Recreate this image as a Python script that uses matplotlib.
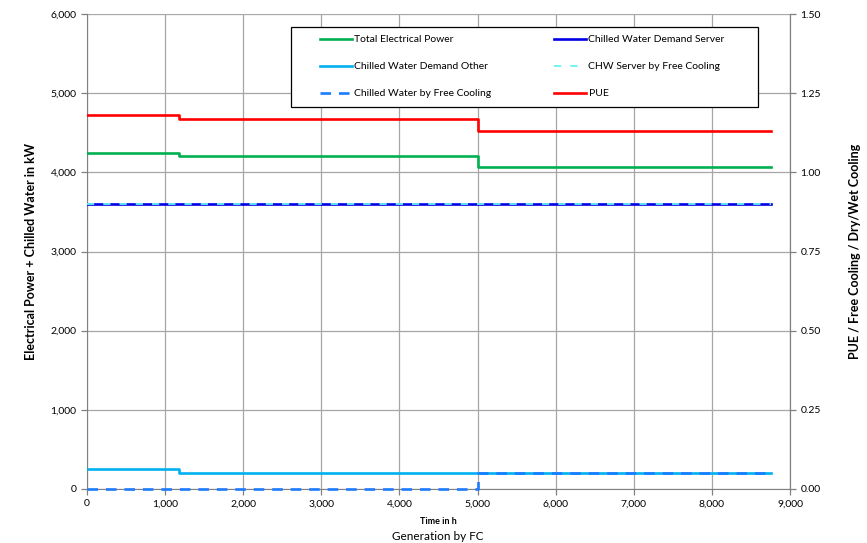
import matplotlib
matplotlib.use("Agg")
import matplotlib.pyplot as plt
from matplotlib.patches import Rectangle
from matplotlib.ticker import FuncFormatter, MultipleLocator

plt.rcParams['font.family'] = ['Lato', 'DejaVu Sans']

# Step change times (h) and segment values
time_h = [0, 1180, 5000, 8760]
total_power = [4250, 4210, 4070, 4070]
chw_server = [3600, 3600, 3600, 3600]
chw_other = [250, 200, 200, 200]
chw_server_fc = [3600, 3600, 3600, 3600]
chw_free_cooling = [0, 0, 200, 200]
pue = [1.18, 1.168, 1.13, 1.13]

W, H = 867, 543
fig = plt.figure(figsize=(W/100, H/100), dpi=100)
ax = fig.add_axes([87/W, 1-489/H, (790-87)/W, (489-14)/H])
ax2 = ax.twinx()

lw = 1.9
h_total, = ax.plot(time_h, total_power, drawstyle='steps-post', color='#00B050', lw=lw, label='Total Electrical Power', zorder=3)
h_other, = ax.plot(time_h, chw_other, drawstyle='steps-post', color='#00B0F0', lw=lw, label='Chilled Water Demand Other', zorder=3)
h_server, = ax.plot(time_h, chw_server, drawstyle='steps-post', color='#0000E6', lw=lw, label='Chilled Water Demand Server', zorder=3)
h_sfc, = ax.plot(time_h, chw_server_fc, drawstyle='steps-post', color='#66F5F5', lw=1.3, ls=(0, (4, 5)), label='CHW Server by Free Cooling', zorder=4)
h_fc, = ax.plot(time_h, chw_free_cooling, drawstyle='steps-post', color='#1C7BFF', lw=lw, ls=(0, (4, 3)), label='Chilled Water by Free Cooling', zorder=5, clip_on=False)
h_pue, = ax2.plot(time_h, pue, drawstyle='steps-post', color='#FF0000', lw=lw, label='PUE')

ax.set_xlim(0, 9000)
ax.set_ylim(0, 6000)
ax2.set_ylim(0, 1.5)
ax.xaxis.set_major_locator(MultipleLocator(1000))
ax.yaxis.set_major_locator(MultipleLocator(1000))
ax2.yaxis.set_major_locator(MultipleLocator(0.25))
ax.xaxis.set_major_formatter(FuncFormatter(lambda v, p: f'{v:,.0f}'))
ax.yaxis.set_major_formatter(FuncFormatter(lambda v, p: f'{v:,.0f}'))
ax2.yaxis.set_major_formatter(FuncFormatter(lambda v, p: f'{v:.2f}'))

ax.grid(True, color='#A6A6A6', lw=0.9)
ax.set_axisbelow(True)
for a in (ax, ax2):
    a.spines['top'].set_visible(False)
    a.spines['left'].set_color('#808080')
    a.spines['right'].set_color('#808080')
    a.spines['bottom'].set_color('#808080')
    a.tick_params(labelsize=7.5, color='#808080', length=4, width=0.9)
ax2.spines['left'].set_visible(False)
ax2.spines['bottom'].set_visible(False)

ax.set_ylabel('Electrical Power + Chilled Water in kW', fontsize=9, fontweight='bold', labelpad=10)
ax2.set_ylabel('PUE / Free Cooling / Dry/Wet Cooling', fontsize=9, fontweight='bold', labelpad=20)
ax.set_xlabel('Time in h', fontsize=6.5, fontweight='bold', labelpad=6)
fig.text(438/W, 1-536/H, 'Generation by FC', fontsize=8.5, ha='center', va='center')

# Legend frame
frame = Rectangle((291/W, 1-107/H), (758-291)/W, (107-27)/H, transform=fig.transFigure,
                  facecolor='white', edgecolor='black', lw=0.9, zorder=4)
fig.add_artist(frame)

handles = [h_total, h_other, h_fc, h_server, h_sfc, h_pue]
leg = fig.legend(handles=handles, ncol=2, loc='upper left',
                 bbox_to_anchor=(320/W, 1-35/H), bbox_transform=fig.transFigure,
                 fontsize=7.5, frameon=False, borderaxespad=0, borderpad=0,
                 handlelength=3.1, handletextpad=0.2, columnspacing=6.0, labelspacing=1.7)
leg.set_zorder(5)

fig.savefig('out.png', dpi=100)
